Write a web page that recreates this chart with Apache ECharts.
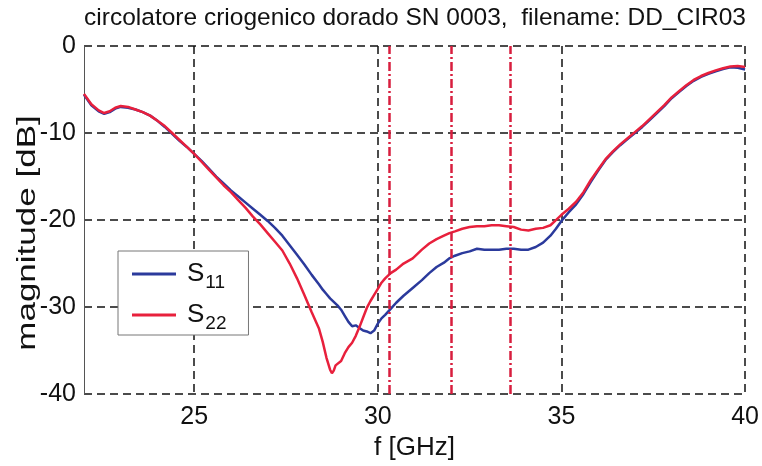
<!DOCTYPE html>
<html>
<head>
<meta charset="utf-8">
<script src="https://cdn.jsdelivr.net/npm/echarts@6/dist/echarts.min.js"></script>
<style>
  html, body { margin: 0; padding: 0; background: #fff; }
  #chart { width: 762px; height: 466px; }
</style>
</head>
<body>
<div id="chart"></div>
<script>
// Frequency sweep points [GHz]
const freq = [
  22.0, 22.2, 22.4, 22.55, 22.7, 22.85, 23.0, 23.2, 23.4, 23.6, 23.8, 24.0, 24.2, 24.4, 24.6, 24.8, 25.0, 25.2, 25.4, 25.6, 25.8, 26.0,
  26.2, 26.4, 26.6, 26.8, 27.0, 27.2, 27.4, 27.6, 27.8, 28.0, 28.2, 28.4,
  28.5, 28.6, 28.7, 28.75, 28.8, 28.85, 28.9, 29.0, 29.1, 29.2, 29.3, 29.4, 29.5, 29.6, 29.7, 29.8, 29.9, 30.0, 30.1, 30.2,
  30.35, 30.5, 30.7, 30.95, 31.2, 31.4, 31.6, 31.8, 31.95, 32.1, 32.3, 32.5, 32.7, 32.9, 33.1, 33.3, 33.5, 33.7, 33.9, 34.1, 34.3, 34.5, 34.7, 34.85,
  35.0, 35.2, 35.4, 35.6, 35.8, 36.0, 36.2, 36.4, 36.6, 36.8, 37.0, 37.2, 37.4, 37.6, 37.8, 38.0, 38.2, 38.4, 38.6, 38.8, 39.0, 39.2, 39.4, 39.6, 39.8, 40.0
];

// |S11| [dB]
const s11 = [
  -5.6, -6.8, -7.5, -7.8, -7.6, -7.2, -7.0, -7.1, -7.3, -7.6, -8.0, -8.6, -9.3, -10.1, -10.9, -11.6, -12.4, -13.2, -14.1, -15.0, -15.8, -16.6,
  -17.3, -18.0, -18.7, -19.4, -20.1, -20.9, -21.8, -22.9, -24.0, -25.1, -26.3, -27.4,
  -28.0, -28.5, -29.0, -29.2, -29.4, -29.6, -29.8, -30.3, -31.0, -31.7, -32.2, -32.1, -32.4, -32.7, -32.8, -33.0, -32.7, -31.9, -31.3, -30.9,
  -30.2, -29.5, -28.7, -27.8, -26.9, -26.1, -25.4, -24.9, -24.4, -24.1, -23.8, -23.6, -23.3, -23.4, -23.4, -23.4, -23.3, -23.3, -23.4, -23.4, -23.1, -22.6, -21.8, -21.0,
  -20.1, -19.1, -18.2, -17.0, -15.6, -14.3, -13.1, -12.2, -11.4, -10.7, -10.0, -9.3, -8.5, -7.7, -6.9, -6.0, -5.3, -4.6, -4.0, -3.55, -3.2, -2.9, -2.65, -2.45, -2.5, -2.7
];

// |S22| [dB]
const s22 = [
  -5.5, -6.7, -7.4, -7.7, -7.5, -7.1, -6.9, -7.0, -7.3, -7.6, -8.0, -8.6, -9.2, -10.0, -10.8, -11.6, -12.4, -13.3, -14.2, -15.1, -16.0, -16.8,
  -17.7, -18.6, -19.6, -20.5, -21.5, -22.5, -23.5, -25.0, -26.7, -28.6, -30.6, -32.5,
  -34.0, -35.8, -37.2, -37.6, -37.3, -36.7, -36.9, -36.2, -35.3, -34.6, -34.1, -33.3, -32.3, -31.2, -30.1, -29.3, -28.6, -27.9, -27.2, -26.7,
  -26.1, -25.7, -25.0, -24.4, -23.4, -22.7, -22.2, -21.8, -21.5, -21.3, -21.0, -20.8, -20.7, -20.7, -20.6, -20.6, -20.7, -20.8, -21.1, -21.2, -21.0, -20.9, -20.6, -20.0,
  -19.4, -18.7, -17.9, -16.8, -15.4, -14.2, -13.0, -12.1, -11.3, -10.6, -9.9, -9.2, -8.4, -7.6, -6.8, -5.9, -5.2, -4.5, -3.9, -3.45, -3.1, -2.8, -2.55, -2.35, -2.3, -2.4
];

// Band markers [GHz]
const markerFreqs = [30.3, 32.0, 33.6];

// Axis ticks
const xTicks = [25, 30, 35, 40];
const yMin = -40, yMax = 0, yStep = 10;

const titleText = 'circolatore criogenico dorado SN 0003,  filename: DD_CIR03';
const yLabelText = 'magnitude [dB]';
const FONT = '"Liberation Sans", Arial, Helvetica, sans-serif';

const chart = echarts.init(document.getElementById('chart'), null, { renderer: 'canvas' });

const pairs = arr => freq.map((f, i) => [f, arr[i]]);
const gridDash = { color: '#111', width: 1.5, type: [8, 5] };

chart.setOption({
  animation: false,
  backgroundColor: '#fff',
  graphic: [
    {
      type: 'text',
      x: 415, y: 18,
      style: { text: titleText, font: '24.5px ' + FONT, fill: '#111', textAlign: 'center', textVerticalAlign: 'middle' }
    },
    {
      // vertical axis title, stretched along its reading direction
      type: 'text',
      x: 28, y: 233,
      rotation: Math.PI / 2,
      scaleX: 1.4,
      style: { text: yLabelText, font: '25px ' + FONT, fill: '#111', textAlign: 'center', textVerticalAlign: 'middle' }
    }
  ],
  grid: { left: 84, top: 46, width: 662, height: 351, containLabel: false },
  xAxis: {
    type: 'value', min: 22, max: 40,
    name: 'f [GHz]', nameLocation: 'middle', nameGap: 38,
    nameTextStyle: { fontFamily: FONT, fontSize: 26, color: '#111' },
    axisLine: { show: false },
    axisTick: { show: false, customValues: xTicks },
    axisLabel: { customValues: xTicks, margin: 11, fontFamily: FONT, fontSize: 25, color: '#111' },
    splitLine: { show: true, lineStyle: gridDash }
  },
  yAxis: {
    type: 'value', min: yMin, max: yMax, interval: yStep,
    axisLine: { show: true, onZero: false, lineStyle: { color: '#555', width: 1 } },
    axisTick: { show: false },
    axisLabel: { margin: 8, fontFamily: FONT, fontSize: 25, color: '#111' },
    splitLine: { show: true, lineStyle: gridDash }
  },
  legend: {
    left: 118, top: 251,
    orient: 'vertical',
    backgroundColor: '#fff',
    borderColor: '#777', borderWidth: 1, borderRadius: 0,
    padding: [5, 22, 2, 14],
    itemGap: 5,
    itemWidth: 44, itemHeight: 3,
    icon: 'rect',
    data: ['S11', 'S22'],
    formatter: name => '{m|S}{s|' + name.slice(1) + '}',
    textStyle: {
      fontFamily: FONT, color: '#111',
      rich: {
        m: { fontSize: 26, fontFamily: FONT, color: '#111', lineHeight: 34, padding: [0, 0, 0, 6], verticalAlign: 'middle' },
        s: { fontSize: 19, fontFamily: FONT, color: '#111', lineHeight: 34, padding: [17, 0, 0, 1], verticalAlign: 'middle' }
      }
    }
  },
  series: [
    {
      name: 'S11', type: 'line', data: pairs(s11), showSymbol: false, symbol: 'none',
      lineStyle: { color: '#2b3a9c', width: 2.5 }, itemStyle: { color: '#2b3a9c' }, z: 3
    },
    {
      name: 'S22', type: 'line', data: pairs(s22), showSymbol: false, symbol: 'none',
      lineStyle: { color: '#e8203c', width: 2.5 }, itemStyle: { color: '#e8203c' }, z: 4
    },
    {
      name: 'markers', type: 'line', data: [], symbol: 'none',
      markLine: {
        silent: true, symbol: ['none', 'none'], label: { show: false },
        lineStyle: { color: '#d81e3e', width: 2.5, type: [9, 3, 2, 3] },
        data: markerFreqs.map(f => ({ xAxis: f }))
      },
      z: 2
    }
  ]
});
</script>
</body>
</html>
